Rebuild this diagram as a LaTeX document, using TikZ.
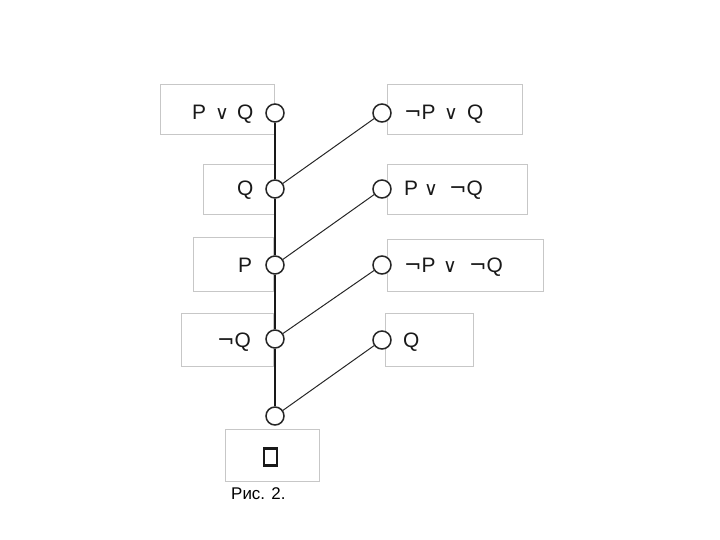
\documentclass[tikz,border=0pt]{standalone}
\usepackage{fontspec}
\setmainfont{Liberation Sans}
\newfontfamily\dv{DejaVu Sans}
\newcommand{\nt}{{\dv ¬}}
\begin{document}
\begin{tikzpicture}[x=1bp,y=-1bp,
  frame/.style={draw=black!22,line width=0.8bp},
  dot/.style={circle,draw=black!85,fill=white,line width=1.5bp,minimum size=18bp,inner sep=0pt},
  lab/.style={font=\fontsize{21}{24}\selectfont,inner sep=0pt,anchor=base west,text=black!90},
  orl/.style={font=\dv\fontsize{19}{22}\selectfont,inner sep=0pt,anchor=base west,text=black!90},
  main/.style={line width=1.8bp,draw=black!90},
  link/.style={line width=1bp,draw=black!85}]
\useasboundingbox (0,0) rectangle (720,540);
% frames
\draw[frame] (160,84) rectangle (274,134);
\draw[frame] (387,84) rectangle (522,134);
\draw[frame] (203,164) rectangle (274,214);
\draw[frame] (387,164) rectangle (527,214);
\draw[frame] (193,237) rectangle (273,291);
\draw[frame] (387,239) rectangle (543,291);
\draw[frame] (181,313) rectangle (273,366);
\draw[frame] (385,313) rectangle (473,366);
\draw[frame] (225,429) rectangle (319,481);
% circles
\node[dot] (l1) at (275,113) {};
\node[dot] (l2) at (275,189) {};
\node[dot] (l3) at (275,265) {};
\node[dot] (l4) at (275,339) {};
\node[dot] (l5) at (275,416) {};
\node[dot] (r1) at (382,113) {};
\node[dot] (r2) at (382,189) {};
\node[dot] (r3) at (382,265) {};
\node[dot] (r4) at (382,340) {};
% connectors
\draw[main] (l1) -- (l2);
\draw[main] (l2) -- (l3);
\draw[main] (l3) -- (l4);
\draw[main] (l4) -- (l5);
\draw[link] (l2) -- (r1);
\draw[link] (l3) -- (r2);
\draw[link] (l4) -- (r3);
\draw[link] (l5) -- (r4);
% left labels
\node[lab] (t1a) at (192,120) {P};
\node[orl] (t1b) at (215,120) {∨};
\node[lab] (t1c) at (237,120) {Q};
\node[lab] (t2) at (237,196) {Q};
\node[lab] (t3) at (238,273) {P};
\node[lab] (t4) at (217,347) {\nt Q};
% right labels
\node[lab] (s1a) at (404,120) {\nt P};
\node[orl] (s1b) at (444,120) {∨};
\node[lab] (s1c) at (467,120) {Q};
\node[lab] (s2a) at (404,196) {P};
\node[orl] (s2b) at (424,196) {∨};
\node[lab] (s2c) at (449,196) {\nt Q};
\node[lab] (s3a) at (404,273) {\nt P};
\node[orl] (s3b) at (443,273) {∨};
\node[lab] (s3c) at (469,273) {\nt Q};
\node[lab] (s4) at (403,347) {Q};
% empty clause and caption
\node[draw=black!90,line width=2.2bp,minimum width=13bp,minimum height=17bp,inner sep=0pt] (box) at (270.5,457) {};
\node[font=\fontsize{17}{20}\selectfont,inner sep=0pt,anchor=west] (cap) at (231,494) {Рис. 2.};
\end{tikzpicture}
\end{document}
